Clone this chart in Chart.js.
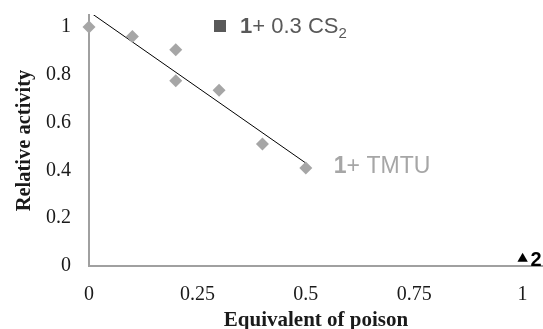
<!DOCTYPE html>
<html>
<head>
<meta charset="utf-8">
<script src="https://cdn.jsdelivr.net/npm/chart.js@4"></script>
<style>
  html, body { margin: 0; padding: 0; background: #fff; }
  #wrap { width: 543px; height: 329px; }
</style>
</head>
<body>
<div id="wrap"><canvas id="poison" width="543" height="329"></canvas></div>
<script>
// 1 + TMTU, relative activity vs equivalents of poison
const tmtuEquiv = [0, 0.1, 0.2, 0.2, 0.3, 0.4, 0.5];
const tmtuActivity = [1.0, 0.96, 0.905, 0.775, 0.735, 0.51, 0.41];
// complex 2, single point
const cplx2Equiv = [1];
const cplx2Activity = [0.03];

const xTicks = [0, 0.25, 0.5, 0.75, 1];
const yTicks = [0, 0.2, 0.4, 0.6, 0.8, 1];

// least squares trend through the TMTU points
function linearFit(xs, ys) {
  const n = xs.length;
  const mx = xs.reduce((a, b) => a + b, 0) / n;
  const my = ys.reduce((a, b) => a + b, 0) / n;
  let sxy = 0, sxx = 0;
  for (let i = 0; i < n; i++) {
    sxy += (xs[i] - mx) * (ys[i] - my);
    sxx += (xs[i] - mx) * (xs[i] - mx);
  }
  const slope = sxy / sxx;
  return { slope: slope, icpt: my - slope * mx };
}
const fit = linearFit(tmtuEquiv, tmtuActivity);
const trendXs = [0, 0.5];

const serif = '"Liberation Serif", "DejaVu Serif", serif';
const sans = '"Liberation Sans", Arial, sans-serif';

const labelsPlugin = {
  id: 'labels',
  afterDatasetsDraw(chart) {
    const ctx = chart.ctx;
    ctx.save();
    ctx.textBaseline = 'alphabetic';
    ctx.textAlign = 'left';

    // "1+ 0.3 CS2" key
    ctx.fillStyle = '#595959';
    ctx.fillRect(214, 20, 12, 12);
    let x = 240, y = 33;
    ctx.font = 'bold 22px ' + sans;
    ctx.fillText('1', x, y);
    x += ctx.measureText('1').width;
    ctx.font = '22px ' + sans;
    ctx.fillText('+ 0.3 CS', x, y);
    x += ctx.measureText('+ 0.3 CS').width;
    ctx.font = '15px ' + sans;
    ctx.fillText('2', x, y + 5);

    // "1+ TMTU" next to last diamond
    const tm = chart.getDatasetMeta(0).data;
    const last = tm[tm.length - 1];
    ctx.fillStyle = '#a6a6a6';
    x = last.x + 28; y = last.y + 5;
    ctx.font = 'bold 23px ' + sans;
    ctx.fillText('1', x, y);
    x += ctx.measureText('1').width;
    ctx.font = '23px ' + sans;
    ctx.fillText('+ TMTU', x, y);

    // "2" next to the triangle
    const tri = chart.getDatasetMeta(2).data[0];
    ctx.fillStyle = '#000';
    ctx.font = 'bold 20px ' + sans;
    ctx.fillText('2', tri.x + 8, tri.y + 7);
    ctx.restore();
  }
};

new Chart(document.getElementById('poison'), {
  type: 'scatter',
  data: {
    datasets: [
      {
        label: '1+ TMTU',
        data: tmtuEquiv.map((v, i) => ({ x: v, y: tmtuActivity[i] })),
        pointStyle: 'rectRot',
        pointRadius: 6.5,
        backgroundColor: '#a6a6a6',
        borderColor: '#a6a6a6',
        borderWidth: 0,
        clip: false
      },
      {
        type: 'line',
        label: 'trend',
        data: trendXs.map(v => ({ x: v, y: fit.icpt + fit.slope * v })),
        borderColor: '#000',
        borderWidth: 1,
        pointRadius: 0,
        fill: false
      },
      {
        label: '2',
        data: cplx2Equiv.map((v, i) => ({ x: v, y: cplx2Activity[i] })),
        pointStyle: 'triangle',
        pointRadius: 6,
        backgroundColor: '#000',
        borderColor: '#000',
        borderWidth: 0,
        clip: false
      }
    ]
  },
  options: {
    responsive: false,
    animation: false,
    layout: { autoPadding: false, padding: { top: 15, right: 0, bottom: 0, left: 0 } },
    plugins: { legend: { display: false }, tooltip: { enabled: false } },
    scales: {
      x: {
        type: 'linear',
        min: 0,
        max: 1.047,
        afterBuildTicks: s => { s.ticks = xTicks.map(v => ({ value: v })); },
        afterFit: s => { s.height = 63; s.paddingLeft = 0; s.paddingRight = 0; },
        grid: { display: false },
        border: { display: true, color: '#a0a0a0', width: 2 },
        ticks: {
          padding: 9,
          color: '#1a1a1a',
          maxRotation: 0,
          font: { family: serif, size: 20 },
          callback: v => String(v)
        },
        title: {
          display: true,
          text: 'Equivalent of poison',
          color: '#1a1a1a',
          padding: { top: 0, bottom: -4 },
          font: { family: serif, size: 21, weight: 'bold' }
        }
      },
      y: {
        type: 'linear',
        min: 0,
        max: 1.05,
        afterBuildTicks: s => { s.ticks = yTicks.map(v => ({ value: v })); },
        afterFit: s => { s.width = 89; s.paddingTop = 0; s.paddingBottom = 0; },
        grid: { display: false },
        border: { display: true, color: '#a0a0a0', width: 2 },
        ticks: {
          padding: 10,
          color: '#1a1a1a',
          font: { family: serif, size: 20 },
          callback: v => String(v)
        },
        title: {
          display: true,
          text: 'Relative activity',
          color: '#1a1a1a',
          padding: { top: 12, bottom: 0 },
          font: { family: serif, size: 20.5, weight: 'bold' }
        }
      }
    }
  },
  plugins: [labelsPlugin]
});
</script>
</body>
</html>
